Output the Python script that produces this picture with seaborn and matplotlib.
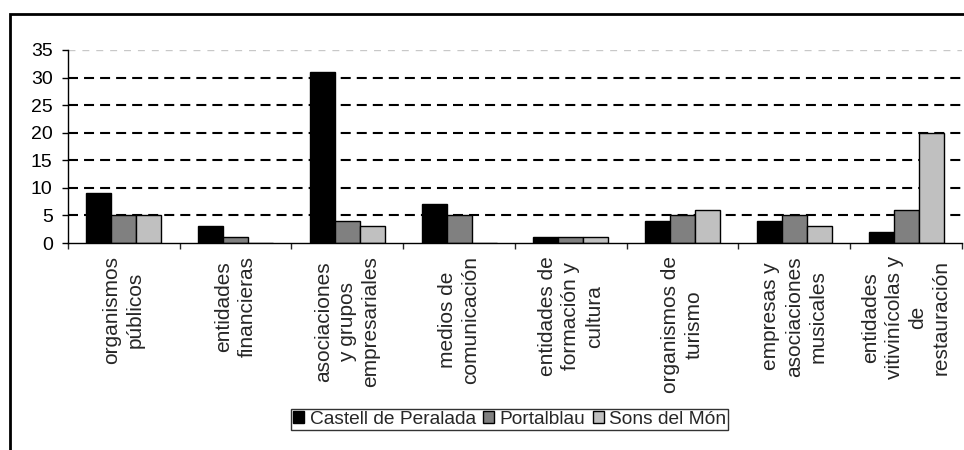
import numpy as np
import pandas as pd
import matplotlib
matplotlib.use('Agg')
import matplotlib.pyplot as plt
import seaborn as sns
from matplotlib.patches import Rectangle

# Data
categories = ['organismos\npúblicos', 'entidades\nfinancieras',
              'asociaciones\ny grupos\nempresariales', 'medios de\ncomunicación',
              'entidades de\nformación y\ncultura', 'organismos de\nturismo',
              'empresas y\nasociaciones\nmusicales', 'entidades\nvitivinícolas y\nde\nrestauración']
series = ['Castell de Peralada', 'Portalblau', 'Sons del Món']
castell = [9, 3, 31, 7, 1, 4, 4, 2]
portalblau = [5, 1, 4, 5, 1, 5, 5, 6]
sons = [5, 0, 3, 0, 1, 6, 3, 20]
colors = ['#000000', '#808080', '#C0C0C0']

df = pd.DataFrame({
    'Categoria': categories * 3,
    'Entidad': [s for s in series for _ in categories],
    'Valor': castell + portalblau + sons,
})

sns.set_style('white')
plt.rcParams['font.family'] = ['Liberation Sans', 'DejaVu Sans']

fig = plt.figure(figsize=(9.64, 4.5), dpi=100)
ax = fig.add_axes([0.0705, 0.46, 0.9274, 0.4289])

sns.barplot(data=df, x='Categoria', y='Valor', hue='Entidad', palette=colors,
            width=0.67, edgecolor='black', linewidth=1, saturation=1,
            legend=False, ax=ax)

ax.set_xlim(-0.5, len(categories) - 0.5)
ax.set_ylim(0, 35)
ax.set_yticks(range(0, 36, 5))
for y in range(5, 31, 5):
    ax.axhline(y, color='black', linestyle=(0, (4.8, 2.9)), linewidth=1.5, zorder=0)
ax.axhline(35, color='#c8c8c8', linestyle=(0, (5, 5)), linewidth=1, zorder=0)

for s in ['top', 'right']:
    ax.spines[s].set_visible(False)
for s in ['left', 'bottom']:
    ax.spines[s].set_color('black')
    ax.spines[s].set_linewidth(1)

ax.set_xlabel('')
ax.set_ylabel('')
ax.tick_params(axis='y', left=True, direction='out', length=4.5, width=1,
               labelsize=14, pad=6.5, colors='black')
ax.set_xticks(np.arange(-0.5, len(categories), 1), minor=True)
ax.tick_params(axis='x', which='minor', bottom=True, direction='out', length=4.5, width=1)
ax.tick_params(axis='x', which='major', bottom=False, labelsize=15, pad=6)
ax.set_xticklabels(categories, rotation=90, ha='center', va='top',
                   multialignment='center', linespacing=1.3)

handles = [Rectangle((0, 0), 1, 1, facecolor=c, edgecolor='black', linewidth=1)
           for c in colors]
leg = fig.legend(handles, series, loc='center', bbox_to_anchor=(0.529, 0.068),
                 ncol=3, frameon=True, fancybox=False, fontsize=13.8,
                 handlelength=0.55, handleheight=0.55, handletextpad=0.3,
                 columnspacing=0.4, borderpad=0.1, borderaxespad=0)
leg.get_frame().set_edgecolor('black')
leg.get_frame().set_linewidth(1)

# outer chart border (runs off the right and bottom edges)
fig.add_artist(Rectangle((10 / 964, -0.1), 1.2, 1.1 - 14 / 450,
                         transform=fig.transFigure, fill=False,
                         edgecolor='black', linewidth=2, clip_on=False))

fig.savefig('out.png', dpi=100)
